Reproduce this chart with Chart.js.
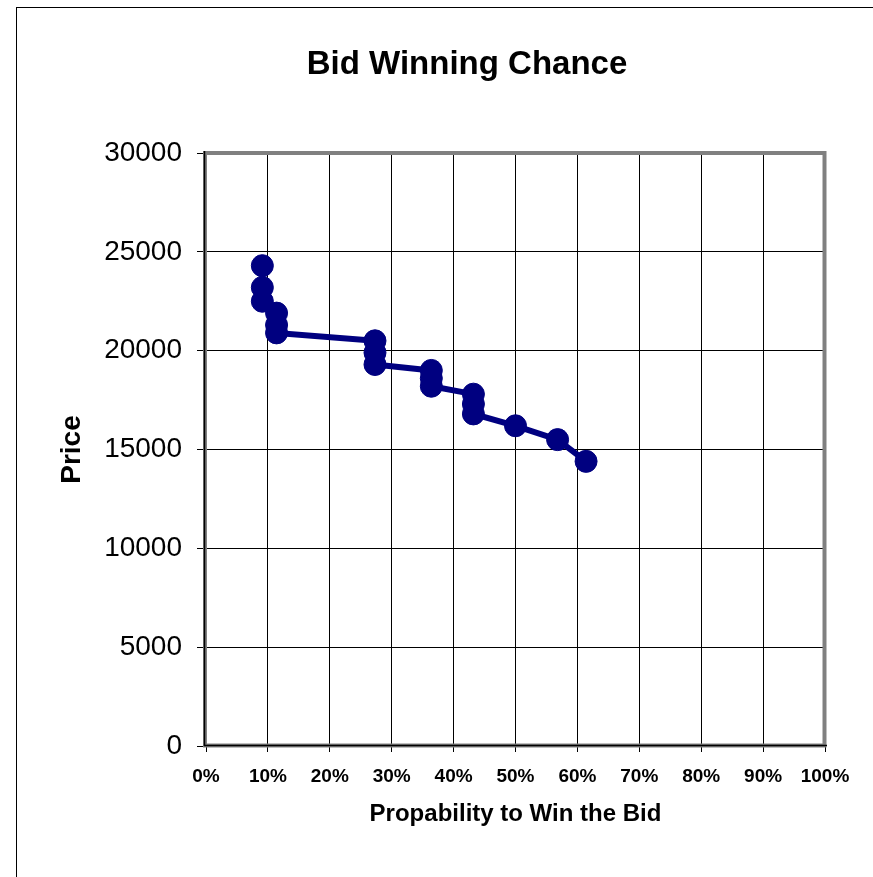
<!DOCTYPE html>
<html>
<head>
<meta charset="utf-8">
<title>Bid Winning Chance</title>
<script src="https://cdn.jsdelivr.net/npm/chart.js@4.4.1/dist/chart.umd.min.js"></script>
<style>
  html, body { margin: 0; padding: 0; background: #fff; overflow: hidden; }
  canvas { display: block; }
</style>
</head>
<body>
<canvas id="bidChart" width="873" height="877"></canvas>
<script>
// Chart data
const probability = [9.1, 9.1, 9.1, 11.4, 11.4, 11.4, 27.3, 27.3, 27.3, 36.4, 36.4, 36.4, 43.2, 43.2, 43.2, 50.0, 56.8, 61.4];
const price = [24300, 23200, 22500, 21900, 21300, 20900, 20500, 19900, 19300, 19000, 18600, 18200, 17800, 17300, 16800, 16200, 15500, 14400];
const xTicks = [0, 10, 20, 30, 40, 50, 60, 70, 80, 90, 100];
const yTicks = [0, 5000, 10000, 15000, 20000, 25000, 30000];

const chartTitle = 'Bid Winning Chance';
const xTitle = 'Propability to Win the Bid';
const yTitle = 'Price';

const FONT = "'Liberation Sans', Arial, sans-serif";
const NAVY = '#000080';

// outer chart frame, plot frame and main title
const framePlugin = {
    id: 'frames',
    beforeDraw(chart) {
        const ctx = chart.ctx;
        ctx.save();
        ctx.fillStyle = '#fff';
        ctx.fillRect(0, 0, chart.width, chart.height);
        ctx.strokeStyle = '#000';
        ctx.lineWidth = 1;
        ctx.strokeRect(16.5, 7.5, 2000, 2000);
        ctx.restore();
    },
    beforeDatasetsDraw(chart) {
        const { ctx, chartArea: a } = chart;
        ctx.save();
        // grey plot area border
        ctx.strokeStyle = '#808080';
        ctx.lineWidth = 4;
        ctx.strokeRect(a.left - 1, a.top, a.right - a.left + 0.5, a.bottom - a.top - 0.5);
        // black axis lines
        ctx.strokeStyle = '#000';
        ctx.lineWidth = 1.5;
        ctx.beginPath();
        ctx.moveTo(a.left - 1.5, a.top - 2);
        ctx.lineTo(a.left - 1.5, a.bottom);
        ctx.moveTo(a.left - 2, a.bottom - 0.5);
        ctx.lineTo(a.right + 2, a.bottom - 0.5);
        ctx.stroke();
        ctx.restore();
    },
    afterDraw(chart) {
        const ctx = chart.ctx;
        ctx.save();
        ctx.fillStyle = '#000';
        ctx.font = 'bold 33px ' + FONT;
        ctx.textAlign = 'center';
        ctx.textBaseline = 'middle';
        ctx.fillText(chartTitle, 467, 65);
        ctx.restore();
    }
};

const chart = new Chart(document.getElementById('bidChart'), {
    type: 'line',
    data: {
        datasets: [{
            label: yTitle,
            data: probability.map((p, i) => ({ x: p, y: price[i] })),
            borderColor: NAVY,
            backgroundColor: NAVY,
            borderWidth: 6,
            tension: 0,
            pointRadius: 11,
            pointBorderWidth: 1,
            pointBackgroundColor: NAVY,
            pointBorderColor: NAVY,
            fill: false
        }]
    },
    options: {
        responsive: false,
        devicePixelRatio: 1,
        animation: false,
        events: [],
        layout: { padding: { top: 153, left: 0, right: 48, bottom: 0 } },
        plugins: {
            legend: { display: false },
            title: { display: false },
            tooltip: { enabled: false }
        },
        scales: {
            x: {
                type: 'linear',
                min: 0,
                max: 100,
                afterBuildTicks: (scale) => { scale.ticks = xTicks.map(v => ({ value: v })); },
                afterFit: (scale) => { scale.height = 131; },
                border: { display: false },
                grid: { color: '#000', lineWidth: 1, tickLength: 6, tickColor: '#000' },
                ticks: {
                    padding: 13,
                    color: '#000',
                    maxRotation: 0,
                    font: { family: FONT, size: 19, weight: 'bold' },
                    callback: (v) => v + '%'
                },
                title: {
                    display: true,
                    text: xTitle,
                    color: '#000',
                    font: { family: FONT, size: 24, weight: 'bold' },
                    padding: { top: 0, bottom: 48 }
                }
            },
            y: {
                type: 'linear',
                min: 0,
                max: 30000,
                afterBuildTicks: (scale) => { scale.ticks = yTicks.map(v => ({ value: v })); },
                afterFit: (scale) => { scale.width = 206; },
                border: { display: false },
                grid: { color: '#000', lineWidth: 1, tickLength: 9, tickColor: '#000' },
                ticks: {
                    padding: 15,
                    color: '#000',
                    font: { family: FONT, size: 28 },
                    callback: (v) => String(v)
                },
                title: {
                    display: true,
                    text: yTitle,
                    color: '#000',
                    font: { family: FONT, size: 28, weight: 'bold' },
                    padding: { top: 55, bottom: 0 }
                }
            }
        }
    },
    plugins: [framePlugin]
});
</script>
</body>
</html>
